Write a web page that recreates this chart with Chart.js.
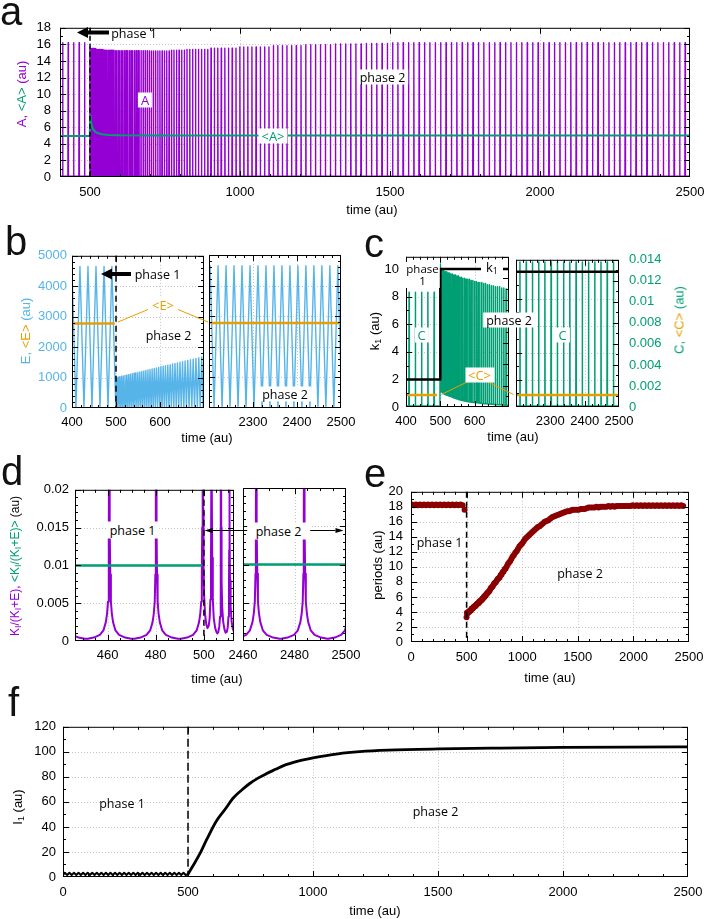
<!DOCTYPE html>
<html lang="en">
<head>
<meta charset="UTF-8">
<title>Phase 1 / phase 2 oscillations</title>
<style>
    body { margin: 0; background: #fff; }
    #page { position: relative; width: 708px; height: 919px; overflow: hidden; background: #fff; }
    canvas { position: absolute; }
    .lbl { position: absolute; transform: translate(-50%, -50%); white-space: nowrap;
           font-family: 'Open Sans', sans-serif; font-size: 12.5px; line-height: 15px; color: #000; }
    .box { background: #fff; padding: 0 3px; }
    .ttl { position: absolute; transform: translate(-50%, -50%); white-space: nowrap;
           font-family: 'Liberation Sans', Arial, sans-serif; font-size: 13px; line-height: 15px; color: #000; }
    .rot { transform: translate(-50%, -50%) rotate(-90deg); }
    .letter { position: absolute; font-family: 'Liberation Sans', Arial, sans-serif; font-size: 40px; line-height: 40px; color: #111; }
    sub { font-size: 9px; line-height: 0; vertical-align: -2px; }
</style>
</head>
<body>
<div id="page"></div>

<script src="https://cdn.jsdelivr.net/npm/chart.js"></script>
<script>
// ---- data ----
// spike (firing) times, phase 1 and phase 2
const spikesP1 = [7.4, 25.7, 43.9, 62.2, 80.4, 98.7, 116.9, 135.2, 153.4, 171.7, 189.9, 208.2, 226.4, 244.7,
    262.9, 281.2, 299.4, 317.7, 335.9, 354.2, 372.4, 390.7, 408.9, 427.2, 445.4, 463.7, 481.9];
const spikesP2 = [
    499.5, 502.8, 506.7, 510.5, 514.4, 518.4, 522.4, 526.4, 530.5, 534.7,
    538.9, 543.1, 547.5, 551.9, 556.4, 560.9, 565.5, 570.2, 574.9, 579.7,
    584.5, 589.4, 594.4, 599.5, 604.6, 609.8, 615.0, 620.4, 625.8, 631.3,
    636.9, 642.5, 648.3, 654.1, 660.1, 666.1, 672.3, 678.5, 684.9, 691.4,
    698.0, 704.7, 711.5, 718.5, 725.7, 733.0, 740.4, 748.0, 755.8, 763.7,
    771.7, 779.9, 788.3, 796.8, 805.4, 814.3, 823.3, 832.6, 842.0, 851.7,
    861.5, 871.6, 882.0, 892.6, 903.4, 914.5, 925.9, 937.5, 949.4, 961.5,
    973.9, 986.6, 999.5, 1012.6, 1026.0, 1039.7, 1053.6, 1067.7, 1082.0, 1096.5,
    1111.2, 1126.1, 1141.2, 1156.5, 1171.9, 1187.5, 1203.3, 1219.3, 1235.4, 1251.6,
    1268.0, 1284.6, 1301.3, 1318.1, 1335.0, 1352.0, 1369.1, 1386.3, 1403.6, 1421.0,
    1438.4, 1455.9, 1473.5, 1491.1, 1508.7, 1526.3, 1544.0, 1561.7, 1579.4, 1597.2,
    1615.1, 1633.0, 1650.9, 1668.8, 1686.8, 1704.7, 1722.7, 1740.7, 1758.7, 1776.7,
    1794.8, 1812.8, 1830.9, 1848.9, 1867.0, 1885.1, 1903.2, 1921.3, 1939.4, 1957.5,
    1975.6, 1993.7, 2011.9, 2030.0, 2048.2, 2066.3, 2084.5, 2102.6, 2120.8, 2138.9,
    2157.1, 2175.2, 2193.4, 2211.5, 2229.7, 2247.8, 2266.0, 2284.1, 2302.3, 2320.4,
    2338.6, 2356.7, 2374.9, 2393.0, 2411.2, 2429.3, 2447.5, 2465.6, 2483.8, 2501.9];

// a: A peak heights
const aPeakP1 = 16.2, aPeakSteady = 16.2, aBase = 0.1;
const aPeaksP2 = [
    15.6, 15.5, 15.5, 15.5, 15.5, 15.5, 15.4, 15.4, 15.4, 15.4,
    15.4, 15.4, 15.3, 15.3, 15.3, 15.3, 15.3, 15.3, 15.3, 15.3,
    15.25, 15.25, 15.25, 15.25, 15.25, 15.25, 15.25, 15.25, 15.25, 15.25,
    15.25, 15.25, 15.25, 15.25, 15.25, 15.25, 15.25, 15.25, 15.25, 15.25,
    15.2, 15.2, 15.2, 15.2, 15.2, 15.2, 15.2, 15.2, 15.2, 15.2,
    15.3, 15.3, 15.3, 15.3, 15.3, 15.3, 15.4, 15.4, 15.4, 15.4,
    15.4, 15.4, 15.4, 15.4, 15.55, 15.55, 15.55, 15.55, 15.55, 15.55,
    15.55, 15.55, 15.7, 15.7, 15.7, 15.7, 15.7, 15.7, 15.7, 15.7,
    15.85, 15.85, 15.85, 15.85, 15.85, 15.85, 15.85, 15.95, 15.95, 15.95,
    15.95, 15.95, 15.95, 16.05, 16.05, 16.05, 16.05, 16.05, 16.05, 16.1,
    16.1, 16.1, 16.1, 16.1];
const aMean = [[400, 4.95], [499.5, 4.95], [500.3, 7.4], [502, 6.9], [505, 6.3], [510, 5.8], [516, 5.5],
    [525, 5.3], [540, 5.15], [560, 5.08], [600, 5.03], [700, 5.0], [2500, 5.0]];

// b: E peaks
const ePeak = 4650;
const ePeaksP2 = [1000, 1015, 1028, 1042, 1055, 1069, 1083, 1097, 1112, 1126, 1141, 1155, 1171, 1186,
    1202, 1218, 1234, 1250, 1267, 1283, 1300, 1317, 1335, 1353, 1371, 1389, 1407, 1426, 1445, 1464,
    1484, 1503, 1524, 1544, 1565, 1586, 1607, 1629, 1652, 1675, 1698, 1720];
const eMeanL = [[400, 2780], [497, 2780]];
const eMeanR = [[2200, 2780], [2500, 2780]];

// c: C peaks / minima, k1 step, <C>
const cPeakP1 = 0.0107, cPeakSteady = 0.0138, cBase = 0.0001;
const cPeaksP2 = [0.0133, 0.0129, 0.0128, 0.0127, 0.0126, 0.0126, 0.0125, 0.0125, 0.0124, 0.0124,
    0.0123, 0.0123, 0.0122, 0.0122, 0.0121, 0.0121, 0.0120, 0.0120, 0.0119, 0.0119,
    0.0119, 0.0118, 0.0118, 0.0117, 0.0117, 0.0116, 0.0116, 0.0116, 0.0115, 0.0115,
    0.0114, 0.0114, 0.0113, 0.0113, 0.0112, 0.0112, 0.0112, 0.0111, 0.0111, 0.0110,
    0.0110, 0.0109];
const cMinsP2 = [0.0016, 0.0014, 0.0013, 0.0012, 0.00115, 0.0011, 0.00105, 0.001, 0.00095, 0.0009,
    0.00085, 0.0008, 0.00075, 0.0007, 0.00066, 0.00062, 0.00058, 0.00055, 0.00052, 0.0005,
    0.00047, 0.00045, 0.00043, 0.00041, 0.00039, 0.00037, 0.00035, 0.00033, 0.00031, 0.0003,
    0.00028, 0.00027, 0.00025, 0.00024, 0.00022, 0.00021, 0.0002, 0.00018, 0.00017, 0.00016,
    0.00015, 0.00014];
const cMeanL = [[400, 0.00113], [490, 0.00113]];
const cMeanR = [[2200, 0.00113], [2500, 0.00113]];
const k1Left = [[400, 2], [500, 2], [500, 10], [700, 10]];
const k1Right = [[2200, 10], [2500, 10]];

// d: KI/(KI+E)
const dSpikesL = [441.5, 460.8, 480.2];
const dSpikeLast = 499.5;
const dSpikesR = [2447.0, 2465.2, 2483.8, 2502.1];
const dProfile = [[0, 0.06], [0.1, 0.028], [0.2, 0.015], [0.35, 0.0088], [0.6, 0.0052], [1.0, 0.0036],
    [1.5, 0.0025], [2.5, 0.0014], [4, 0.0008], [6.5, 0.00045], [9, 0.0003]];
const dPhase2L = [[499.6, 0.03], [499.7, 0.017], [499.85, 0.01], [500.1, 0.006], [500.5, 0.0035],
    [501.0, 0.0022], [501.5, 0.0017], [502.0, 0.002], [502.4, 0.003], [502.7, 0.0055], [502.95, 0.011],
    [503.1, 0.022], [503.2, 0.06], [503.3, 0.022], [503.45, 0.011], [503.7, 0.0055], [504.1, 0.003],
    [504.7, 0.0017], [505.2, 0.0012], [505.6, 0.001], [506.0, 0.0012], [506.4, 0.0019], [506.7, 0.0032],
    [506.9, 0.006], [507.0, 0.012], [507.1, 0.06], [507.2, 0.015], [507.35, 0.008], [507.6, 0.0045],
    [508.0, 0.0026], [508.5, 0.0016], [509.0, 0.0011], [509.5, 0.0012], [509.9, 0.0018], [510.2, 0.0032],
    [510.4, 0.006], [510.5, 0.012], [510.6, 0.06], [510.7, 0.015], [510.85, 0.008], [511.1, 0.0045],
    [511.5, 0.0026], [512.0, 0.0016], [512.5, 0.0012], [513.5, 0.0009]];
const dMean = 0.01;

// f: I1
const iP1Hi = 3.4, iP1Lo = 1.6;
const iCurveP2 = [[499.5, 2.2], [520, 9], [547, 18.4], [575, 30], [613, 44.6], [650, 54.5], [680, 62.9],
    [715, 69.5], [747, 74.7], [780, 79], [813, 82.5], [850, 86], [880, 88.8], [940, 92.5], [1000, 95.1],
    [1100, 98.4], [1187, 100.1], [1300, 101.3], [1500, 102.3], [1750, 103.0], [2000, 103.5],
    [2250, 103.8], [2500, 104.0]];

// tick labels
const aXTicks = [500, 1000, 1500, 2000, 2500];
const aYTicks = [0, 2, 4, 6, 8, 10, 12, 14, 16, 18];
const bXTicksL = [400, 500, 600, 700];
const bXTicksR = [2200, 2300, 2400, 2500];
const bYTicks = [0, 1000, 2000, 3000, 4000, 5000];
const cYTicks = [0, 2, 4, 6, 8, 10];
const cY2Ticks = [0, 0.002, 0.004, 0.006, 0.008, 0.01, 0.012, 0.014];
const dXTicksL = [460, 480, 500];
const dXTicksR = [2460, 2480, 2500];
const dYTicks = [0, 0.005, 0.01, 0.015, 0.02];
const eXTicks = [0, 500, 1000, 1500, 2000, 2500];
const eYTicks = [0, 2, 4, 6, 8, 10, 12, 14, 16, 18, 20];
const fXTicks = [0, 500, 1000, 1500, 2000, 2500];
const fYTicks = [0, 20, 40, 60, 80, 100, 120];

const PURPLE = '#9400d3', GREEN = '#009e73', BLUE = '#56b4e9', ORANGE = '#e69f00', DARKRED = '#8b0000';

// ---- helpers ----
const page = document.getElementById('page');
const tickFont = { family: "'Liberation Sans', Arial, sans-serif", size: 13 };

function addCanvas(x, y, w, h) {
    const c = document.createElement('canvas');
    c.width = w; c.height = h;
    c.style.left = x + 'px'; c.style.top = y + 'px';
    c.style.width = w + 'px'; c.style.height = h + 'px';
    page.appendChild(c);
    return c;
}

const pts = arr => arr.map(([x, y]) => ({ x, y }));

function minorVals(sc, step) {
    const out = [];
    if (!step) return out;
    for (let k = Math.ceil(sc.min / step - 1e-6); k * step <= sc.max + step * 1e-6; k++) out.push(k * step);
    return out;
}

const framePlugin = {
    id: 'frame',
    beforeDatasetsDraw(chart, args, o) {
        const { ctx, chartArea: a, scales } = chart;
        ctx.save();
        ctx.strokeStyle = '#c4c4c4';
        ctx.lineWidth = 1;
        ctx.setLineDash([1, 2]);
        ctx.beginPath();
        (o.xGrid || []).forEach(v => {
            const px = Math.round(scales.x.getPixelForValue(v)) + 0.5;
            if (px > a.left + 1 && px < a.right - 1) { ctx.moveTo(px, a.top); ctx.lineTo(px, a.bottom); }
        });
        (o.yGrid || []).forEach(v => {
            const py = Math.round(scales.y.getPixelForValue(v)) + 0.5;
            if (py > a.top + 1 && py < a.bottom - 1) { ctx.moveTo(a.left, py); ctx.lineTo(a.right, py); }
        });
        ctx.stroke();
        ctx.restore();
    },
    afterDatasetsDraw(chart, args, o) {
        const { ctx, chartArea: a, scales } = chart;
        ctx.save();
        if (o.dashAt != null) {
            const px = scales.x.getPixelForValue(o.dashAt);
            ctx.strokeStyle = '#000';
            ctx.lineWidth = 1.5;
            ctx.setLineDash(o.dash || [6, 4]);
            ctx.beginPath(); ctx.moveTo(px, a.top); ctx.lineTo(px, a.bottom); ctx.stroke();
            ctx.setLineDash([]);
        }
        ctx.strokeStyle = '#000';
        ctx.lineWidth = 1;
        ctx.strokeRect(a.left + 0.5, a.top + 0.5, a.right - a.left - 1, a.bottom - a.top - 1);
        const list = (sc, major, step) => major.map(v => [v, 6]).concat(
            minorVals(sc, step).filter(v => !major.some(m => Math.abs(m - v) < step / 100)).map(v => [v, 3]));
        ctx.beginPath();
        list(scales.x, o.xMajor, o.xMinor).forEach(([v, len]) => {
            const px = Math.round(scales.x.getPixelForValue(v)) + 0.5;
            if (px < a.left || px > a.right) return;
            ctx.moveTo(px, a.bottom); ctx.lineTo(px, a.bottom - len);
            ctx.moveTo(px, a.top); ctx.lineTo(px, a.top + len);
        });
        const yTicks = (sc, major, step, side) => list(sc, major, step).forEach(([v, len]) => {
            const py = Math.round(sc.getPixelForValue(v)) + 0.5;
            if (py < a.top || py > a.bottom) return;
            if (side !== 'right') { ctx.moveTo(a.left, py); ctx.lineTo(a.left + len, py); }
            if (side !== 'left') { ctx.moveTo(a.right, py); ctx.lineTo(a.right - len, py); }
        });
        if (scales.y2) {
            yTicks(scales.y, o.yMajor, o.yMinor, 'left');
            yTicks(scales.y2, o.y2Major, o.y2Minor, 'right');
        } else {
            yTicks(scales.y, o.yMajor, o.yMinor, 'both');
        }
        ctx.stroke();
        ctx.restore();
    }
};

function xAxis(min, max, major, hide, mb, pad) {
    return {
        type: 'linear', min, max,
        afterBuildTicks: s => { s.ticks = major.map(v => ({ value: v })); },
        afterFit: s => { s.height = mb; },
        ticks: { font: tickFont, color: '#000', padding: pad, maxRotation: 0, minRotation: 0, autoSkip: false,
                 callback: v => hide.includes(v) ? '' : String(v) },
        grid: { display: false, drawTicks: false },
        border: { display: false }
    };
}

function yAxis(min, max, major, o) {
    return {
        type: 'linear', min, max, position: o.position || 'left', display: o.show !== false,
        afterBuildTicks: s => { s.ticks = major.map(v => ({ value: v })); },
        afterFit: s => { s.width = o.width; },
        ticks: { font: tickFont, color: o.color || '#000', padding: o.pad, autoSkip: false,
                 callback: v => String(v) },
        grid: { display: false, drawTicks: false },
        border: { display: false }
    };
}

// plot = page box of the plotting area; m = canvas margins round it (left, top, right, bottom)
function panel(p) {
    const [L, T, R, B] = p.plot, [ml, mt, mr, mb] = p.m;
    const cv = addCanvas(L - ml, T - mt, R - L + ml + mr, B - T + mt + mb);
    const hasLeft = p.scales.y.display !== false;
    const hasRight = p.scales.y2 && p.scales.y2.display !== false;
    return new Chart(cv, {
        type: 'line',
        data: { datasets: p.datasets },
        options: {
            responsive: false, animation: false, devicePixelRatio: 1, events: [], parsing: false,
            layout: { autoPadding: false,
                      padding: { left: hasLeft ? 0 : ml, right: hasRight ? 0 : mr, top: mt, bottom: 0 } },
            scales: p.scales,
            plugins: { legend: { display: false }, tooltip: { enabled: false }, frame: p.frame }
        },
        plugins: [framePlugin]
    });
}

function line(data, color, width, extra) {
    return Object.assign({ data, borderColor: color, borderWidth: width, pointRadius: 0, fill: false,
        tension: 0, borderJoinStyle: 'round', yAxisID: 'y' }, extra || {});
}

// ---- traces built from the arrays ----
const aTrace = [];
const aSpike = (t, h) => aTrace.push({ x: t - 0.9, y: aBase }, { x: t, y: h }, { x: t + 0.9, y: aBase });
spikesP1.slice(21).forEach(t => aSpike(t, aPeakP1));
spikesP2.forEach((t, i) => aSpike(t, i < aPeaksP2.length ? aPeaksP2[i] : aPeakSteady));

function eTrace(times, peakAt) {
    const out = [];
    times.forEach((t, i) => {
        out.push({ x: t, y: 0 });
        if (i < times.length - 1) out.push({ x: (t + times[i + 1]) / 2, y: peakAt(i) });
    });
    return out;
}
const p1Tail = spikesP1.slice(21);
const eLeft = eTrace(p1Tail.concat(spikesP2.slice(0, 43)),
    i => i < p1Tail.length ? ePeak : ePeaksP2[i - p1Tail.length]);
const eRight = eTrace(spikesP2.slice(142), () => ePeak);

const cLeft = [];
p1Tail.forEach(t => cLeft.push({ x: t - 0.7, y: cBase }, { x: t, y: cPeakP1 }, { x: t + 0.7, y: cBase }));
let cPrev = cBase;
spikesP2.slice(0, 42).forEach((t, i) => {
    cLeft.push({ x: t - 0.6, y: cPrev }, { x: t, y: cPeaksP2[i] }, { x: t + 0.6, y: cMinsP2[i] });
    cPrev = cMinsP2[i];
});
const cRight = [];
spikesP2.slice(142).forEach(t => cRight.push({ x: t - 0.7, y: cBase }, { x: t, y: cPeakSteady }, { x: t + 0.7, y: cBase }));

function dTrace(times, lastLeftOnly) {
    const out = [];
    times.forEach(t => {
        for (let k = dProfile.length - 1; k > 0; k--) out.push({ x: t - dProfile[k][0], y: dProfile[k][1] });
        out.push({ x: t, y: dProfile[0][1] });
        for (let k = 1; k < dProfile.length; k++) out.push({ x: t + dProfile[k][0], y: dProfile[k][1] });
    });
    if (lastLeftOnly != null) {
        for (let k = dProfile.length - 1; k >= 0; k--) out.push({ x: lastLeftOnly - dProfile[k][0], y: dProfile[k][1] });
    }
    return out;
}
const dLeft = dTrace(dSpikesL, dSpikeLast).concat(pts(dPhase2L));
const dRight = dTrace(dSpikesR);

const allSpikes = spikesP1.concat(spikesP2);
const periods = [];
for (let i = 0; i < allSpikes.length - 1; i++) {
    if (allSpikes[i] < 2450) periods.push({ x: allSpikes[i], y: allSpikes[i + 1] - allSpikes[i] });
}

const iPhase1 = [{ x: 0, y: iP1Lo }];
spikesP1.forEach((t, i) => {
    iPhase1.push({ x: t, y: iP1Hi });
    const next = i < spikesP1.length - 1 ? spikesP1[i + 1] : spikesP2[0];
    iPhase1.push({ x: (t + next) / 2, y: iP1Lo });
});
iPhase1.push({ x: iCurveP2[0][0], y: iCurveP2[0][1] });

// ---- panels ----
// a
panel({
    plot: [60, 23, 690, 177], m: [45, 12, 24, 28],
    scales: { x: xAxis(400, 2500, aXTicks, [], 28, 8),
              y: yAxis(0, 18, aYTicks, { width: 45, pad: 9 }) },
    datasets: [line(pts(aMean), GREEN, 2), line(aTrace, PURPLE, 1.4)],
    frame: { xMajor: aXTicks, xMinor: 100, yMajor: aYTicks, yMinor: 1, xGrid: aXTicks, yGrid: aYTicks, dashAt: 500, dash: [5, 3] }
});

// b
panel({
    plot: [72, 255, 204, 408], m: [50, 12, 24, 24],
    scales: { x: xAxis(400, 700, bXTicksL, [700], 24, 7),
              y: yAxis(0, 5000, bYTicks, { width: 50, pad: 5, color: BLUE }) },
    datasets: [line(pts(eMeanL), ORANGE, 2.5), line(eLeft, BLUE, 1.4)],
    frame: { xMajor: bXTicksL, xMinor: 20, yMajor: bYTicks, yMinor: 200, xGrid: bXTicksL, yGrid: bYTicks, dashAt: 500, dash: [6, 4] }
});
panel({
    plot: [209, 255, 341, 408], m: [24, 12, 24, 24],
    scales: { x: xAxis(2200, 2500, bXTicksR, [2200], 24, 7),
              y: yAxis(0, 5000, bYTicks, { width: 0, pad: 0, show: false }) },
    datasets: [line(pts(eMeanR), ORANGE, 2.5), line(eRight, BLUE, 1.4)],
    frame: { xMajor: bXTicksR, xMinor: 20, yMajor: bYTicks, yMinor: 200, xGrid: bXTicksR, yGrid: bYTicks }
});

// c
panel({
    plot: [406, 254, 509, 407], m: [38, 12, 24, 24],
    scales: { x: xAxis(400, 700, bXTicksL, [700], 24, 7),
              y: yAxis(0, 10.88, cYTicks, { width: 38, pad: 7 }),
              y2: yAxis(0, 0.014, cY2Ticks, { width: 0, pad: 0, position: 'right', show: false }) },
    datasets: [line(pts(k1Left), '#000', 2.5),
               line(pts(cMeanL), ORANGE, 2.5, { yAxisID: 'y2' }),
               line(cLeft, GREEN, 1.5, { yAxisID: 'y2' })],
    frame: { xMajor: bXTicksL, xMinor: 20, yMajor: cYTicks, yMinor: 1, y2Major: cY2Ticks, y2Minor: 0.001,
             xGrid: bXTicksL, yGrid: cYTicks }
});
panel({
    plot: [516, 254, 619, 407], m: [24, 12, 52, 24],
    scales: { x: xAxis(2200, 2500, bXTicksR, [2200], 24, 7),
              y: yAxis(0, 10.88, cYTicks, { width: 0, pad: 0, show: false }),
              y2: yAxis(0, 0.014, cY2Ticks, { width: 52, pad: 10, position: 'right', color: GREEN }) },
    datasets: [line(pts(k1Right), '#000', 2.5),
               line(pts(cMeanR), ORANGE, 2.5, { yAxisID: 'y2' }),
               line(cRight, GREEN, 1.5, { yAxisID: 'y2' })],
    frame: { xMajor: bXTicksR, xMinor: 20, yMajor: cYTicks, yMinor: 1, y2Major: cY2Ticks, y2Minor: 0.001,
             xGrid: bXTicksR, yGrid: cYTicks }
});

// d
panel({
    plot: [75, 488, 234, 641], m: [52, 12, 24, 24],
    scales: { x: xAxis(446.5, 512.5, dXTicksL, [], 24, 7),
              y: yAxis(0, 0.02, dYTicks, { width: 52, pad: 6 }) },
    datasets: [line(pts([[446.5, dMean], [499.3, dMean]]), GREEN, 2.5), line(dLeft, PURPLE, 2)],
    frame: { xMajor: dXTicksL, xMinor: 5, yMajor: dYTicks, yMinor: 0.001, xGrid: dXTicksL, yGrid: dYTicks, dashAt: 500, dash: [6, 4] }
});
panel({
    plot: [243, 488, 346, 641], m: [24, 12, 24, 24],
    scales: { x: xAxis(2460, 2500, dXTicksR, [], 24, 7),
              y: yAxis(0, 0.02, dYTicks, { width: 0, pad: 0, show: false }) },
    datasets: [line(pts([[2460, dMean], [2500, dMean]]), GREEN, 2.5), line(dRight, PURPLE, 2)],
    frame: { xMajor: dXTicksR, xMinor: 5, yMajor: dYTicks, yMinor: 0.001, xGrid: dXTicksR, yGrid: dYTicks }
});

// e
panel({
    plot: [411, 488, 689, 642], m: [34, 12, 24, 26],
    scales: { x: xAxis(0, 2500, eXTicks, [], 26, 8),
              y: yAxis(0, 20, eYTicks, { width: 34, pad: 8 }) },
    datasets: [{ data: periods, showLine: false, pointRadius: 3, pointBackgroundColor: DARKRED,
                 pointBorderWidth: 0, yAxisID: 'y' }],
    frame: { xMajor: eXTicks, xMinor: 100, yMajor: eYTicks, yMinor: 1, xGrid: eXTicks, yGrid: eYTicks, dashAt: 500, dash: [6, 4] }
});

// f
panel({
    plot: [63, 724, 688, 877], m: [42, 12, 24, 26],
    scales: { x: xAxis(0, 2500, fXTicks, [], 26, 8),
              y: yAxis(0, 120, fYTicks, { width: 42, pad: 7 }) },
    datasets: [line(iPhase1, '#000', 2), line(pts(iCurveP2), '#000', 2.8, { cubicInterpolationMode: 'monotone' })],
    frame: { xMajor: fXTicks, xMinor: 100, yMajor: fYTicks, yMinor: 10, xGrid: fXTicks, yGrid: fYTicks, dashAt: 500, dash: [8, 4] }
});

// ---- overlay: arrows and pointer lines ----
const ov = addCanvas(0, 0, 708, 919);
const g = ov.getContext('2d');
function arrow(x1, y1, x2, y2, w, hl, hw) {
    const ang = Math.atan2(y2 - y1, x2 - x1);
    const bx = x2 - hl * Math.cos(ang), by = y2 - hl * Math.sin(ang);
    g.strokeStyle = '#000'; g.fillStyle = '#000'; g.lineWidth = w;
    g.beginPath(); g.moveTo(x1, y1); g.lineTo(bx, by); g.stroke();
    g.beginPath(); g.moveTo(x2, y2);
    g.lineTo(bx + hw / 2 * Math.sin(ang), by - hw / 2 * Math.cos(ang));
    g.lineTo(bx - hw / 2 * Math.sin(ang), by + hw / 2 * Math.cos(ang));
    g.closePath(); g.fill();
}
arrow(109, 32.5, 77, 32.5, 4, 11, 11);
arrow(131, 274, 101, 274, 4, 11, 11);
arrow(274, 530.5, 204.5, 530.5, 1, 8, 5);
arrow(274, 530.5, 343.5, 530.5, 1, 8, 5);
g.strokeStyle = ORANGE; g.lineWidth = 1;
g.beginPath();
g.moveTo(148, 309.5); g.lineTo(118, 322);
g.moveTo(178, 309.5); g.lineTo(208, 322);
g.moveTo(468, 381.5); g.lineTo(441.5, 394.5);
g.moveTo(487, 381.5); g.lineTo(513.5, 394.5);
g.stroke();

// ---- text ----
function label(html, x, y, cls, style) {
    const d = document.createElement('div');
    d.className = cls;
    d.innerHTML = html;
    d.style.left = x + 'px'; d.style.top = y + 'px';
    Object.assign(d.style, style || {});
    page.appendChild(d);
}
const col = (c, s) => '<span style="color:' + c + '">' + s + '</span>';

// panel letters
[['a', 0, 25], ['b', 5, 255], ['c', 364, 257], ['d', 1, 485], ['e', 364, 487], ['f', 8, 716]].forEach(([s, x, base]) => {
    label(s, x, base - 34, 'letter', { transform: 'none' });
});

// axis titles
label('time (au)', 372, 209, 'ttl');
label(col(PURPLE, 'A, ') + col(GREEN, '&lt;A&gt;') + col(PURPLE, ' (au)'), 21, 94, 'ttl rot');
label('time (au)', 207, 437, 'ttl');
label(col(BLUE, 'E, ') + col(ORANGE, '&lt;E&gt;') + col(BLUE, ' (au)'), 25, 331, 'ttl rot');
label('time (au)', 513, 436, 'ttl');
label('k<sub>1</sub> (au)', 374, 331, 'ttl rot');
label(col(GREEN, 'C, ') + col(ORANGE, '&lt;C&gt;') + col(GREEN, ' (au)'), 679, 320, 'ttl rot');
label('time (au)', 217, 678, 'ttl');
label(col(PURPLE, 'K<sub>I</sub>/(K<sub>I</sub>+E), ') + col(GREEN, '&lt;K<sub>I</sub>/(K<sub>I</sub>+E)&gt;') + ' (au)',
      15, 566, 'ttl rot', { fontSize: '12px' });
label('time (au)', 550, 677, 'ttl');
label('periods (au)', 377, 565, 'ttl rot');
label('time (au)', 375, 910, 'ttl');
label('I<sub>1</sub> (au)', 17, 807, 'ttl rot');

// annotations
label('phase 1', 134, 32.5, 'lbl');
label(col(PURPLE, 'A'), 145, 100, 'lbl box', { fontSize: '13px' });
label(col(GREEN, '&lt;A&gt;'), 273, 136, 'lbl box', { fontSize: '13px' });
label('phase 2', 382.5, 77, 'lbl box');

label('phase 1', 157.5, 274, 'lbl');
label(col(ORANGE, '&lt;E&gt;'), 163, 305, 'lbl box', { fontSize: '13px' });
label('phase 2', 168.5, 335, 'lbl');
label('phase 2', 285, 393.5, 'lbl box');

label('phase<br>1', 422.5, 275, 'lbl box', { fontSize: '11.5px', lineHeight: '12px', textAlign: 'center', padding: '1px 1px' });
label('k<sub>1</sub>', 492, 267, 'lbl box', { fontSize: '13px', padding: '0 5px' });
label(col(GREEN, 'C'), 421.5, 335, 'lbl box', { fontSize: '13px' });
label('phase 2', 509, 320, 'lbl box');
label(col(GREEN, 'C'), 562.5, 335, 'lbl box', { fontSize: '13px' });
label(col(ORANGE, '&lt;C&gt;'), 479.5, 375, 'lbl box', { fontSize: '13px' });

label('phase 1', 132.5, 530, 'lbl box', { padding: '1px 4px' });
label('phase 2', 278.5, 531, 'lbl box', { padding: '1px 9px' });

label('phase 1', 439.5, 541.5, 'lbl');
label('phase 2', 580, 572.5, 'lbl');

label('phase 1', 122, 803, 'lbl');
label('phase 2', 435.5, 810.5, 'lbl');
</script>
</body>
</html>
